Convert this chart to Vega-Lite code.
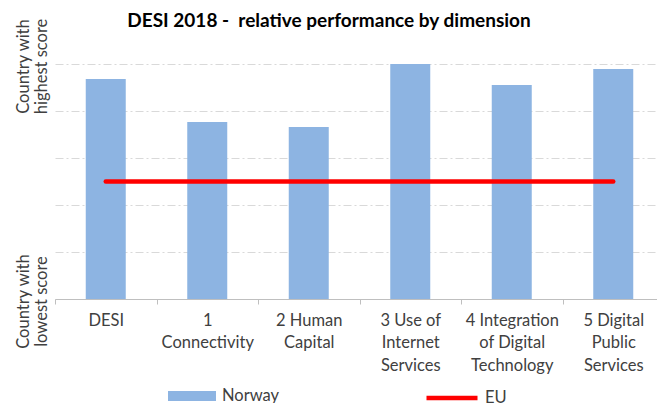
{
  "$schema": "https://vega.github.io/schema/vega-lite/v6.json",
  "width": 602,
  "height": 235,
  "autosize": {"type": "none"},
  "padding": {"left": 55, "top": 64, "right": 0, "bottom": 104},
  "background": "white",
  "config": {"view": {"stroke": null}, "font": "Lato"},
  "title": {
    "text": "DESI 2018 -\u00a0 relative performance by dimension",
    "font": "Lato",
    "fontSize": 19,
    "fontWeight": "bold",
    "color": "#000000",
    "anchor": "middle",
    "frame": "group",
    "dx": -27,
    "offset": -13
  },
  "data": {
    "values": [
      {"dimension": "DESI", "norway": 0.936, "eu": 0.5},
      {"dimension": "1 Connectivity", "norway": 0.753, "eu": 0.5},
      {"dimension": "2 Human Capital", "norway": 0.732, "eu": 0.5},
      {"dimension": "3 Use of Internet Services", "norway": 1.0, "eu": 0.5},
      {"dimension": "4 Integration of Digital Technology", "norway": 0.911, "eu": 0.5},
      {"dimension": "5 Digital Public Services", "norway": 0.979, "eu": 0.5}
    ]
  },
  "encoding": {
    "x": {
      "field": "dimension",
      "type": "nominal",
      "sort": null,
      "scale": {"range": [0, 609], "paddingInner": 0, "paddingOuter": 0},
      "axis": {
        "title": null,
        "labelAngle": 0,
        "labelExpr": "datum.value=='1 Connectivity'?['1','Connectivity']:datum.value=='2 Human Capital'?['2 Human','Capital']:datum.value=='3 Use of Internet Services'?['3 Use of','Internet','Services']:datum.value=='4 Integration of Digital Technology'?['4 Integration','of Digital','Technology']:datum.value=='5 Digital Public Services'?['5 Digital','Public','Services']:datum.value",
        "labelFontSize": 16.5,
        "labelColor": "#404040",
        "labelLineHeight": 22.5,
        "labelPadding": 8,
        "labelBaseline": "top",
        "tickBand": "extent",
        "tickSize": 5,
        "tickColor": "#bfbfbf",
        "domainColor": "#bfbfbf",
        "labelOverlap": false
      }
    }
  },
  "layer": [
    {
      "mark": {"type": "bar", "size": 40},
      "encoding": {
        "y": {
          "field": "norway",
          "type": "quantitative",
          "scale": {"domain": [0, 1]},
          "axis": {
            "title": null,
            "values": [0, 0.2, 0.4, 0.6, 0.8, 1],
            "domain": false,
            "ticks": false,
            "grid": true,
            "gridColor": "#d9d9d9",
            "gridDash": [8, 3, 2, 3],
            "gridWidth": 1,
            "labelExpr": "datum.value==1?['Country with','highest score']:(datum.value==0?['Country with','lowest score']:'')",
            "labelAngle": -90,
            "labelAlign": "center",
            "labelBaseline": "bottom",
            "labelPadding": 24,
            "labelOffset": 2,
            "labelFontSize": 16.5,
            "labelColor": "#404040",
            "labelLineHeight": 18,
            "labelOverlap": false,
            "labelBound": false,
            "labelFlush": false
          }
        },
        "fill": {
          "datum": "Norway",
          "type": "nominal",
          "scale": {"domain": ["Norway"], "range": ["#8db4e2"]},
          "legend": {
            "title": null,
            "orient": "none",
            "legendX": 113,
            "legendY": 308,
            "symbolType": "M-1,-0.21H1V0.21H-1Z",
            "symbolSize": 2304,
            "symbolStrokeWidth": 0,
            "labelFontSize": 16.5,
            "labelColor": "#404040",
            "labelOffset": 6
          }
        }
      }
    },
    {
      "mark": {"type": "line", "strokeWidth": 4.5, "strokeCap": "round"},
      "encoding": {
        "y": {"field": "eu", "type": "quantitative"},
        "stroke": {
          "datum": "EU",
          "type": "nominal",
          "scale": {"domain": ["EU"], "range": ["#ff0000"]},
          "legend": {
            "title": null,
            "orient": "none",
            "legendX": 369,
            "legendY": 306,
            "symbolType": "stroke",
            "symbolSize": 2601,
            "symbolStrokeWidth": 4.5,
            "labelFontSize": 16.5,
            "labelColor": "#404040",
            "labelOffset": 5
          }
        }
      }
    }
  ]
}
